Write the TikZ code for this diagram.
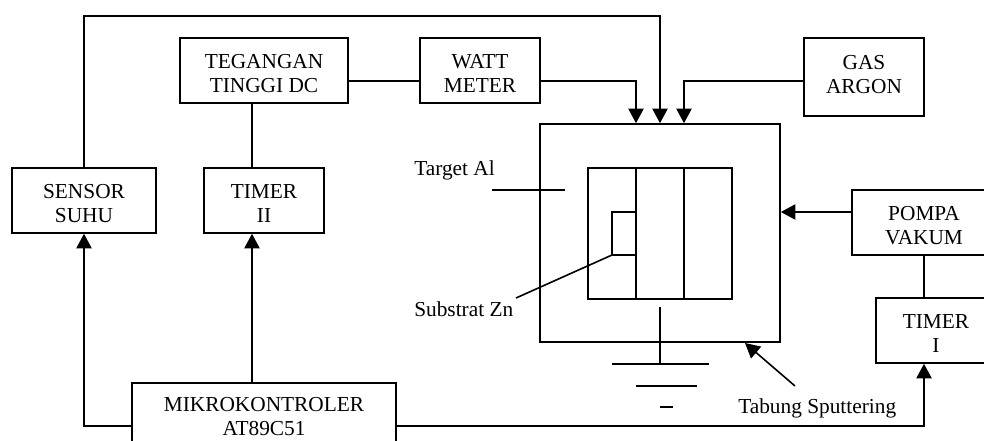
\documentclass[tikz,border=0pt]{standalone}
\usepackage{fontspec}
\setmainfont{Liberation Serif}
\usetikzlibrary{arrows.meta}
\tikzset{
 wire/.style={draw=black,line width=1.2pt},
 arr/.style={wire,-{Triangle[length=11pt,width=11.5pt]}},
 boxn/.style={draw=black,line width=1.2pt,rectangle,inner sep=0pt,align=center,font=\fontsize{16}{18}\selectfont},
 lab/.style={inner sep=0pt,font=\fontsize{16}{18}\selectfont,anchor=west}
}
\newcommand{\tp}{\rule{0pt}{15pt}}
\begin{document}
\begin{tikzpicture}[x=0.75pt,y=-0.75pt]
\useasboundingbox (0,0) rectangle (984,440);
\clip (0,0) rectangle (984,440);
\node[boxn,minimum width=108.4pt,minimum height=48.75pt] (sensor) at (84,200.5) {\tp SENSOR\\SUHU};
\node[boxn,minimum width=90pt,minimum height=48.75pt] (timer2) at (264,200.5) {\tp TIMER\\II};
\node[boxn,minimum width=126pt,minimum height=48.75pt] (tegangan) at (264,70.5) {\tp TEGANGAN\\TINGGI DC};
\node[boxn,minimum width=90pt,minimum height=48.75pt] (watt) at (480,70.5) {\tp WATT\\METER};
\node[boxn,minimum width=90pt,minimum height=58.9pt] (gas) at (864,77) {GAS\\ARGON\rule[-4.5pt]{0pt}{0pt}};
\node[boxn,minimum width=108pt,minimum height=48.75pt] (pompa) at (924,222.5) {\tp POMPA\\VAKUM};
\node[boxn,minimum width=90pt,minimum height=48.75pt] (timer1) at (936,330.5) {\tp TIMER\\I};
\node[boxn,minimum width=198pt,minimum height=48.75pt] (mikro) at (264,415.5) {\rule{0pt}{12pt}MIKROKONTROLER\\AT89C51};
\node[boxn,minimum width=180pt,minimum height=163.5pt] (tube) at (660,233) {};
\node[boxn,minimum width=108pt,minimum height=98.25pt] (inner) at (660,233.5) {};
\node[lab] (ltarget) at (414,170) {Target Al};
\node[lab] (lsub) at (414,309) {Substrat Zn};
\node[lab] (ltab) at (738,408) {Tabung Sputtering};
\coordinate (xa) at (252,0);
\coordinate (xb) at (924,0);
\coordinate (xt1) at (636,0);
\coordinate (xt2) at (660,0);
\coordinate (xt3) at (684,0);
\coordinate (ya) at (0,426);
\coordinate (yb) at (0,81);
\coordinate (yc) at (0,212);
\coordinate (yt) at (0,16);
\coordinate (s1) at (612,212);
\coordinate (s2) at (612,255);
\coordinate (s3) at (516,298);
\coordinate (d1) at (636,168);
\coordinate (d2) at (636,299);
\coordinate (d3) at (684,168);
\coordinate (d4) at (684,299);
\coordinate (ta) at (492,190);
\coordinate (tb) at (565,190);
\coordinate (g0) at (660,307);
\coordinate (g1) at (660,364);
\coordinate (g2) at (612,364);
\coordinate (g3) at (709,364);
\coordinate (g4) at (636,386);
\coordinate (g5) at (697,386);
\coordinate (g6) at (660,407);
\coordinate (g7) at (673,407);
\coordinate (ar1) at (795,386);
\coordinate (ar2) at (745,343);
\draw[arr] (sensor.north) |- (yt -| xt2) -- (tube.north -| xt2);
\draw[wire] (tegangan.east |- yb) -- (watt.west |- yb);
\draw[arr] (watt.east |- yb) -| (tube.north -| xt1);
\draw[arr] (gas.west |- yb) -| (tube.north -| xt3);
\draw[wire] (tegangan.south -| xa) -- (timer2.north -| xa);
\draw[arr] (mikro.west |- ya) -| (sensor.south);
\draw[arr] (mikro.north -| xa) -- (timer2.south -| xa);
\draw[arr] (mikro.east |- ya) -| (timer1.south -| xb);
\draw[arr] (pompa.west |- yc) -- (tube.east |- yc);
\draw[wire] (pompa.south) -- (timer1.north -| pompa.south);
\draw[wire] (d1) -- (d2);
\draw[wire] (d3) -- (d4);
\draw[wire] (d1 |- s1) -- (s1) -- (s2) -- (d1 |- s2);
\draw[wire] (s2) -- (s3);
\draw[wire] (ta) -- (tb);
\draw[wire] (g0) -- (g1);
\draw[wire] (g2) -- (g3);
\draw[wire] (g4) -- (g5);
\draw[wire] (g6) -- (g7);
\draw[arr] (ar1) -- (ar2);
\end{tikzpicture}
\end{document}
